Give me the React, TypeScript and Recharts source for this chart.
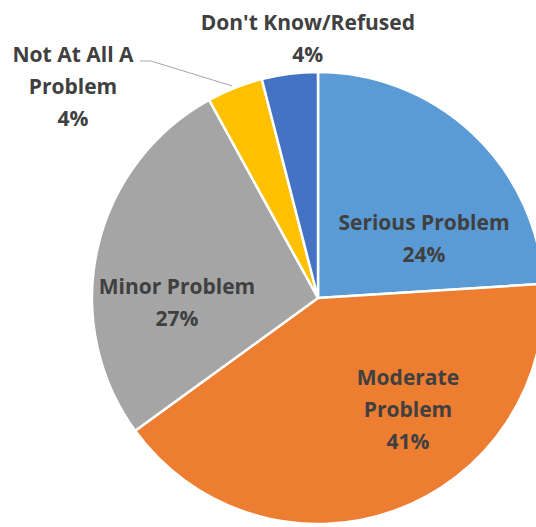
import React from "react";
import { PieChart, Pie, Cell } from "recharts";

const categories = ["Serious Problem", "Moderate Problem", "Minor Problem", "Not At All A Problem", "Don't Know/Refused"];
const values = [24, 41, 27, 4, 4];
const labelLines: string[][] = [
  ["Serious Problem", "24%"],
  ["Moderate", "Problem", "41%"],
  ["Minor Problem", "27%"],
  ["Not At All A", "Problem", "4%"],
  ["Don't Know/Refused", "4%"],
];
const colors = ["#5B9BD5", "#ED7D31", "#A5A5A5", "#FFC000", "#4472C4"];
// label centre offsets as fraction of outer radius
const labelOffsets = [
  [0.469, -0.265],
  [0.398, 0.491],
  [-0.624, 0.018],
  [-1.084, -0.938],
  [-0.045, -1.15],
];

const data = categories.map((name, i) => ({ name, value: values[i] }));

const LINE_H = 32;

const renderLabel = (props: any) => {
  const { cx, cy, outerRadius, index, midAngle } = props;
  const [fx, fy] = labelOffsets[index];
  const x = cx + fx * outerRadius;
  const y = cy + fy * outerRadius;
  const lines = labelLines[index];
  const top = y - ((lines.length - 1) * LINE_H) / 2;
  let leader = null;
  if (index === 3) {
    const rad = (midAngle * Math.PI) / 180;
    const ex = cx + outerRadius * Math.cos(rad);
    const ey = cy - outerRadius * Math.sin(rad);
    leader = (
      <polyline
        points={`${x + 67},${top + 7} ${x + 78},${top + 7} ${ex - 3},${ey - 2}`}
        fill="none"
        stroke="#A6A6A6"
        strokeWidth={1}
      />
    );
  }
  return (
    <g key={`lbl-${index}`}>
      {leader}
      <text
        x={x}
        y={top}
        textAnchor="middle"
        dominantBaseline="central"
        fill="#404040"
        fontFamily="'Open Sans', sans-serif"
        fontWeight="bold"
        fontSize={21}
      >
        {lines.map((l, i) => (
          <tspan key={i} x={x} dy={i === 0 ? 0 : LINE_H}>
            {l}
          </tspan>
        ))}
      </text>
    </g>
  );
};

export default function App() {
  return (
    <div style={{ position: "absolute", left: 0, top: 0, width: 536, height: 527, background: "#fff" }}>
      <PieChart width={536} height={527} margin={{ top: 0, right: 0, bottom: 0, left: 0 }}>
        <Pie
          data={data}
          dataKey="value"
          nameKey="name"
          cx={318}
          cy={298}
          outerRadius={226}
          startAngle={90}
          endAngle={-270}
          stroke="#FFFFFF"
          strokeWidth={2.5}
          label={renderLabel}
          labelLine={false}
          isAnimationActive={false}
        >
          {data.map((d, i) => (
            <Cell key={d.name} fill={colors[i]} />
          ))}
        </Pie>
      </PieChart>
    </div>
  );
}
